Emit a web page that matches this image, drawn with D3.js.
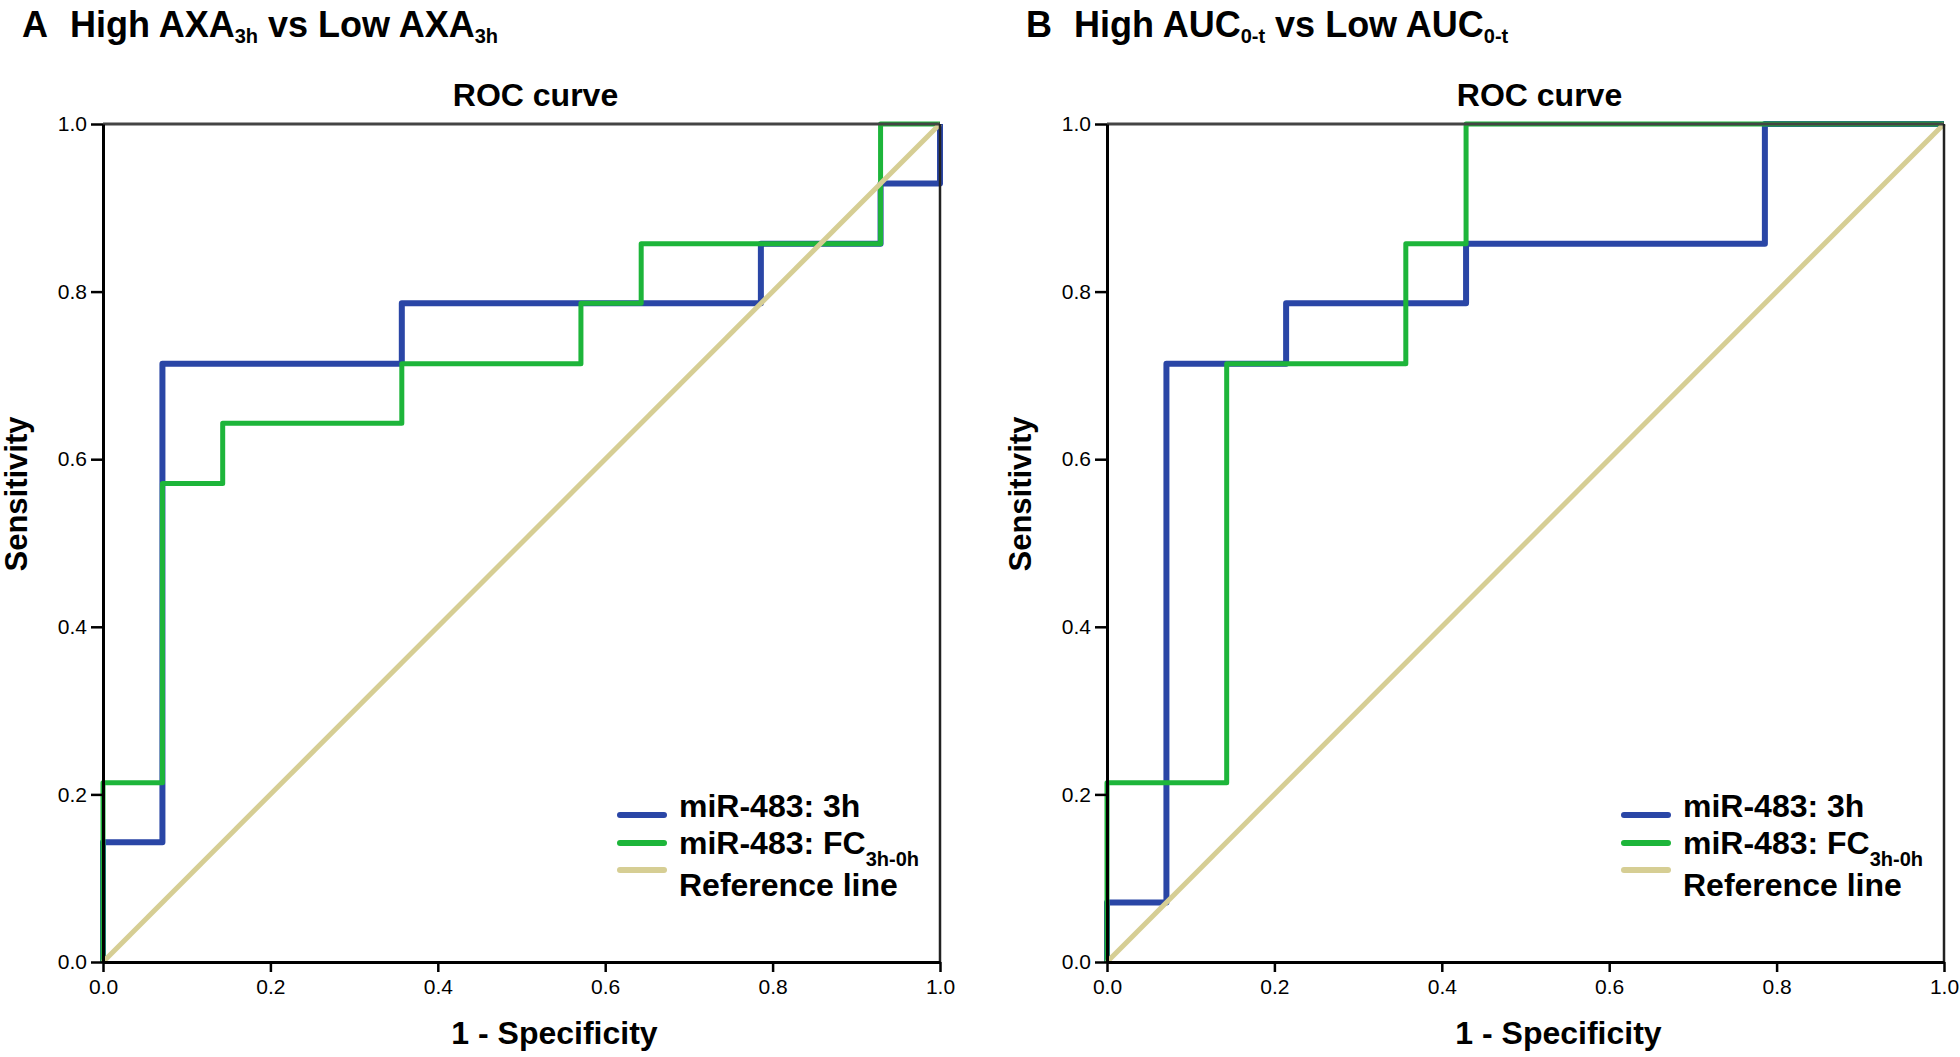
<!DOCTYPE html>
<html>
<head>
<meta charset="utf-8">
<script src="https://d3js.org/d3.v7.min.js"></script>
<style>
  body { margin: 0; background: #fff; }
  svg text { font-family: "Liberation Sans", Arial, sans-serif; fill: #000; }
</style>
</head>
<body>
<svg id="viz" width="1960" height="1057"></svg>
<script>
// tick labels
var ticks = [0, 0.2, 0.4, 0.6, 0.8, 1.0];

// panel A - High AXA3h vs Low AXA3h
var aBlueX = [0, 0, 0.071, 0.071, 0.357, 0.357, 0.786, 0.786, 0.929, 0.929, 1, 1];
var aBlueY = [0, 0.143, 0.143, 0.714, 0.714, 0.786, 0.786, 0.857, 0.857, 0.929, 0.929, 1];
var aGreenX = [0, 0, 0.071, 0.071, 0.143, 0.143, 0.357, 0.357, 0.571, 0.571, 0.643, 0.643, 0.929, 0.929, 1];
var aGreenY = [0, 0.214, 0.214, 0.571, 0.571, 0.643, 0.643, 0.714, 0.714, 0.786, 0.786, 0.857, 0.857, 1, 1];

// panel B - High AUC0-t vs Low AUC0-t
var bBlueX = [0, 0, 0.071, 0.071, 0.214, 0.214, 0.429, 0.429, 0.786, 0.786, 1];
var bBlueY = [0, 0.071, 0.071, 0.714, 0.714, 0.786, 0.786, 0.857, 0.857, 1, 1];
var bGreenX = [0, 0, 0.143, 0.143, 0.357, 0.357, 0.429, 0.429, 1];
var bGreenY = [0, 0.214, 0.214, 0.714, 0.714, 0.857, 0.857, 1, 1];

// reference line
var refX = [0, 1];
var refY = [0, 1];

var seriesNames = ["miR-483: 3h", "miR-483: FC", "Reference line"];
var colors = ["#2a46a6", "#1db53a", "#d6ce94"];
var widths = [6, 5, 5];

var svg = d3.select("#viz");
var plotW = 837, plotH = 838, plotTop = 124;

function zip(xs, ys) {
    return xs.map(function(v, i) { return [v, ys[i]]; });
}

function drawPanel(left, letter, main, sub, blue, green) {
    var x = d3.scaleLinear().domain([0, 1]).range([left, left + plotW]);
    var y = d3.scaleLinear().domain([0, 1]).range([plotTop + plotH, plotTop]);

    // title with subscripts
    var t = svg.append("text").attr("x", left - 81).attr("y", 37)
        .style("font-size", "36px").style("font-weight", "bold");
    t.append("tspan").text(letter);
    t.append("tspan").attr("x", left - 33).text("High " + main);
    t.append("tspan").attr("dy", 6).style("font-size", "20px").text(sub);
    t.append("tspan").attr("dy", -6).text(" vs Low " + main);
    t.append("tspan").attr("dy", 6).style("font-size", "20px").text(sub);

    svg.append("text").attr("x", left + plotW / 2 + 14).attr("y", 106)
        .attr("text-anchor", "middle").style("font-size", "32px").style("font-weight", "bold")
        .text("ROC curve");

    // curves
    var line = d3.line().x(d => x(d[0])).y(d => y(d[1]));
    var data = [blue, green, zip(refX, refY)];
    data.forEach(function(d, i) {
        svg.append("path").attr("d", line(d))
            .attr("fill", "none")
            .attr("stroke", colors[i])
            .attr("stroke-width", widths[i])
            .attr("stroke-linejoin", "round");
    });

    // frame
    svg.append("line").attr("x1", x(0)).attr("x2", x(1)).attr("y1", y(1)).attr("y2", y(1))
        .attr("stroke", "#444").attr("stroke-width", 3);
    svg.append("line").attr("x1", x(1)).attr("x2", x(1)).attr("y1", y(0)).attr("y2", y(1))
        .attr("stroke", "#222").attr("stroke-width", 2.5);

    // axes
    var xa = svg.append("g").attr("transform", "translate(0," + (plotTop + plotH) + ")")
        .call(d3.axisBottom(x).tickValues(ticks).tickFormat(d3.format(".1f")).tickSize(10).tickSizeOuter(0).tickPadding(7));
    var ya = svg.append("g").attr("transform", "translate(" + left + ",0)")
        .call(d3.axisLeft(y).tickValues(ticks).tickFormat(d3.format(".1f")).tickSize(12).tickSizeOuter(0).tickPadding(4));
    [xa, ya].forEach(function(a) {
        a.select(".domain").attr("stroke", "#000").attr("stroke-width", 3);
        a.selectAll(".tick line").attr("stroke", "#000").attr("stroke-width", 2.5);
        a.selectAll(".tick text").style("font-size", "21px")
            .style("font-family", "'Liberation Sans', Arial, sans-serif");
    });

    svg.append("text").attr("transform", "translate(" + (left - 76) + ",494) rotate(-90)")
        .attr("text-anchor", "middle").style("font-size", "31px").style("font-weight", "bold")
        .text("Sensitivity");
    svg.append("text").attr("x", left + plotW / 2 + 33).attr("y", 1044)
        .attr("text-anchor", "middle").style("font-size", "32px").style("font-weight", "bold")
        .text("1 - Specificity");

    // legend
    var lx = left + plotW - 320;
    var swatchY = [815, 843, 870];
    var textY = [817, 854, 896];
    seriesNames.forEach(function(name, i) {
        svg.append("line").attr("x1", lx).attr("x2", lx + 44)
            .attr("y1", swatchY[i]).attr("y2", swatchY[i])
            .attr("stroke", colors[i]).attr("stroke-width", 6).attr("stroke-linecap", "round");
        var lt = svg.append("text").attr("x", lx + 59).attr("y", textY[i])
            .style("font-size", "32px").style("font-weight", "bold").text(name);
        if (i == 1) {
            lt.append("tspan").attr("dy", 12).style("font-size", "20px").text("3h-0h");
        }
    });
}

drawPanel(103, "A", "AXA", "3h", zip(aBlueX, aBlueY), zip(aGreenX, aGreenY));
drawPanel(1107, "B", "AUC", "0-t", zip(bBlueX, bBlueY), zip(bGreenX, bGreenY));
</script>
</body>
</html>
